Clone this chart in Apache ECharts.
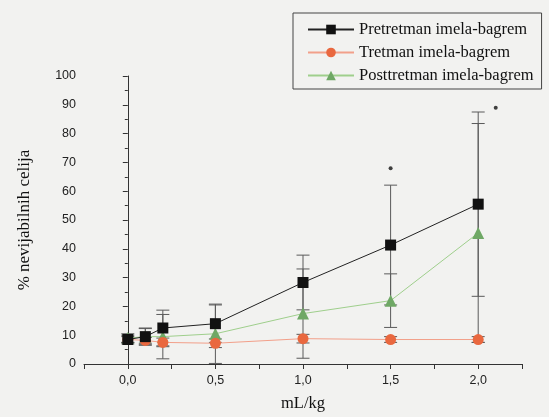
<!DOCTYPE html>
<html><head><meta charset="utf-8">
<script src="https://cdn.jsdelivr.net/npm/echarts@6/dist/echarts.min.js"></script>
<style>html,body{margin:0;padding:0;background:#f2f2f0}#c{width:549px;height:417px}</style>
</head><body><div id="c"></div>
<script>
const doses = [0, 0.1, 0.2, 0.5, 1.0, 1.5, 2.0];
const preVals = [8.5, 9.5, 12.5, 14, 28.3, 41.3, 55.5];
const preErr = [1.5, 2.8, 6.2, 6.5, 9.5, 20.8, 32];
const treVals = [8.5, 8.2, 7.5, 7.2, 8.8, 8.5, 8.5];
const treErr = [1, 1, 1.5, 1.5, 1.5, 1, 1];
const postVals = [9, 9.5, 9.5, 10.5, 17.5, 22, 45.5];
const postErr = [1.5, 3, 7.7, 10.3, 15.5, 9.3, 38];
const sigX = [1.5, 2.1];
const sigY = [68, 89];
const names = ['Pretretman imela-bagrem', 'Tretman imela-bagrem', 'Posttretman imela-bagrem'];
const xTickLabels = {'0': '0,0', '0.5': '0,5', '1': '1,0', '1.5': '1,5', '2': '2,0'};

function pairs(v) { return doses.map((d, i) => [d, v[i]]); }
function errData(v, e) { return doses.map((d, i) => [d, v[i], e[i]]); }
function errSeries(v, e) {
  return {
    type: 'custom', z: 1, silent: true,
    data: errData(v, e),
    renderItem: function (params, api) {
      const x = api.value(0), y = api.value(1), er = api.value(2);
      const lo = Math.max(0, y - er);
      const p1 = api.coord([x, y + er]);
      const p2 = api.coord([x, lo]);
      const w = 6.5;
      const st = {stroke: '#5a5a5a', lineWidth: 1, fill: null};
      return {type: 'group', children: [
        {type: 'line', shape: {x1: p1[0], y1: p1[1], x2: p2[0], y2: p2[1]}, style: st},
        {type: 'line', shape: {x1: p1[0] - w, y1: p1[1], x2: p1[0] + w, y2: p1[1]}, style: st},
        {type: 'line', shape: {x1: p2[0] - w, y1: p2[1], x2: p2[0] + w, y2: p2[1]}, style: st}
      ]};
    }
  };
}

const chart = echarts.init(document.getElementById('c'));
chart.setOption({
  backgroundColor: '#f2f2f0',
  animation: false,
  grid: {left: 84, right: 27, top: 76, bottom: 50},
  legend: {
    orient: 'vertical', left: 293, top: 13,
    padding: [8, 8, 5, 14],
    borderColor: '#444', borderWidth: 1,
    itemWidth: 46, itemHeight: 12, itemGap: 6,
    textStyle: {fontFamily: 'Liberation Serif', fontSize: 16.5, color: '#111'},
    data: names
  },
  xAxis: {
    type: 'value', min: -0.25, max: 2.25, interval: 0.25,
    name: 'mL/kg', nameLocation: 'middle', nameGap: 31,
    nameTextStyle: {fontFamily: 'Liberation Serif', fontSize: 16.5, color: '#111'},
    axisLine: {lineStyle: {color: '#333'}},
    axisTick: {inside: false, length: 5, lineStyle: {color: '#333'}},
    splitLine: {show: false},
    axisLabel: {
      fontFamily: 'Liberation Sans', fontSize: 12.5, color: '#222', margin: 10,
      formatter: function (v) { const k = String(Math.round(v * 100) / 100); return xTickLabels[k] || ''; }
    }
  },
  yAxis: {
    type: 'value', min: 0, max: 100, interval: 10,
    name: '% nevijabilnih celija', nameLocation: 'middle', nameGap: 51,
    nameTextStyle: {fontFamily: 'Liberation Serif', fontSize: 17, color: '#111'},
    axisLine: {show: true, lineStyle: {color: '#333'}},
    axisTick: {show: true, length: 5, lineStyle: {color: '#333'}},
    minorTick: {show: true, splitNumber: 2, length: 3, lineStyle: {color: '#333'}},
    splitLine: {show: false},
    axisLabel: {fontFamily: 'Liberation Sans', fontSize: 12.5, color: '#222', margin: 8}
  },
  series: [
    errSeries(preVals, preErr),
    errSeries(treVals, treErr),
    errSeries(postVals, postErr),
    {name: names[2], type: 'line', z: 3, data: pairs(postVals), symbol: 'triangle', symbolSize: 12,
      itemStyle: {color: '#6fa865'}, lineStyle: {color: '#9fcf8c', width: 1}},
    {name: names[1], type: 'line', z: 4, data: pairs(treVals), symbol: 'circle', symbolSize: 11,
      itemStyle: {color: '#e9683f'}, lineStyle: {color: '#f2a08a', width: 1}},
    {name: names[0], type: 'line', z: 5, data: pairs(preVals), symbol: 'rect', symbolSize: 11,
      itemStyle: {color: '#111'}, lineStyle: {color: '#222', width: 1}},
    {type: 'scatter', z: 6, silent: true, data: sigX.map((x, i) => [x, sigY[i]]), symbol: 'circle', symbolSize: 4,
      itemStyle: {color: '#111'}}
  ]
});
</script></body></html>
